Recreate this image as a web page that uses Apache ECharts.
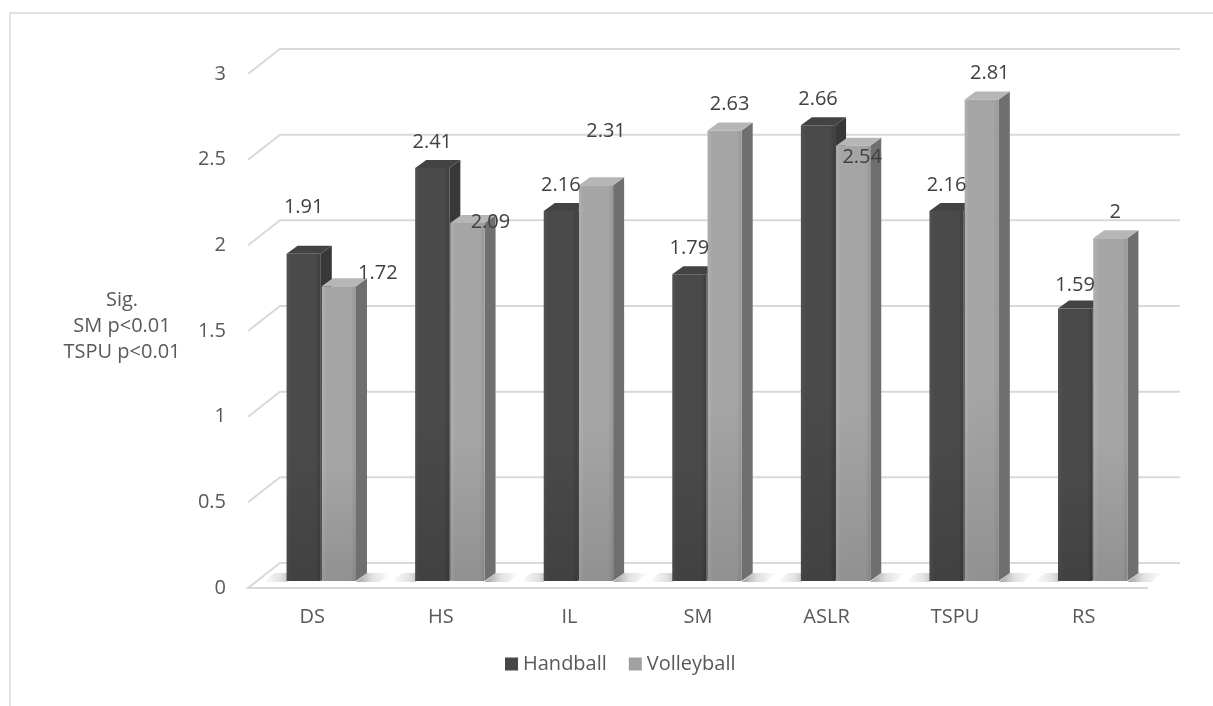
<!DOCTYPE html>
<html>
<head>
<meta charset="utf-8">
<script src="https://cdn.jsdelivr.net/npm/echarts@6/dist/echarts.min.js"></script>
<style>html,body{margin:0;padding:0;background:#fff;}#c{width:1213px;height:706px;}</style>
</head>
<body>
<div id="c"></div>
<script>
// ---- data ----
const categories = ['DS', 'HS', 'IL', 'SM', 'ASLR', 'TSPU', 'RS'];
const handball = [1.91, 2.41, 2.16, 1.79, 2.66, 2.16, 1.59];
const volleyball = [1.72, 2.09, 2.31, 2.63, 2.54, 2.81, 2];
const yTicks = [0, 0.5, 1, 1.5, 2, 2.5, 3];
const seriesNames = ['Handball', 'Volleyball'];
const sideNote = 'Sig.\nSM p<0.01\nTSPU p<0.01';

// ---- layout / style (not data) ----
const FONT = '"Open Sans", "DejaVu Sans", sans-serif';
const TXT = '#595959';
const GRID_C = '#d9d9d9';
const WALL = [32, -25];      // depth of the 3D box
const BAR_SHIFT = [9, -7];   // bar position inside the depth
const BAR_DEPTH = [11, -8];  // depth of a single bar
const SHADOW_LEN = 24;
const labelNudgeH = [[0, -20], [0, 0], [0, 0], [0, 0], [0, 0], [0, 0], [0, 3]];
const labelNudgeV = [[34, 13], [18, 25], [5, -28], [0, 0], [4, 37], [3, 0], [0, 0]];

const styles = [
  { front: ['#515151', '#4a4a4a', '#3d3d3d'], side: '#383838', top: '#434343' },
  { front: ['#b0b0b0', '#a5a5a5', '#979797'], side: '#6f6f6f', top: '#b6b6b6' }
];

function barGeom(api, idx) {
  const cat = api.value(0), val = api.value(1);
  const top = api.coord([cat, val]);
  const base = api.coord([cat, 0]);
  const band = api.size([1, 0])[0];
  const w = band * 0.266;
  const cx = base[0] + BAR_SHIFT[0];
  const x0 = idx === 0 ? cx - w - 0.5 : cx + 0.5;
  const yb = base[1] + BAR_SHIFT[1];
  const yt = top[1] + BAR_SHIFT[1];
  return { x0, w, yb, yt, cx, cat };
}

function shadowPiece(xa, xb, yb, darkLeft) {
  const dx = BAR_DEPTH[0], dy = BAR_DEPTH[1];
  return {
    type: 'polygon',
    shape: { points: [[xa, yb + 1], [xb, yb + 1], [xb + dx, yb + dy], [xa + dx, yb + dy]] },
    style: {
      fill: new echarts.graphic.LinearGradient(0, 0, 1, 0, darkLeft ? [
        { offset: 0, color: 'rgba(0,0,0,0.38)' },
        { offset: 0.45, color: 'rgba(0,0,0,0.12)' },
        { offset: 1, color: 'rgba(0,0,0,0)' }
      ] : [
        { offset: 0, color: 'rgba(0,0,0,0)' },
        { offset: 0.55, color: 'rgba(0,0,0,0.12)' },
        { offset: 1, color: 'rgba(0,0,0,0.38)' }
      ])
    },
    silent: true
  };
}

function barRender(idx) {
  return function (params, api) {
    const g = barGeom(api, idx);
    const s = styles[idx];
    const dx = BAR_DEPTH[0], dy = BAR_DEPTH[1];
    const children = [];
    // soft floor shadows beside the bar pair
    if (idx === 0) {
      children.push(shadowPiece(g.x0 - SHADOW_LEN, g.x0, g.yb, false));
    } else {
      children.push(shadowPiece(g.x0 + g.w, g.x0 + g.w + SHADOW_LEN, g.yb, true));
    }
    children.push({
      type: 'polygon',
      shape: { points: [[g.x0 + g.w, g.yt], [g.x0 + g.w + dx, g.yt + dy], [g.x0 + g.w + dx, g.yb + dy], [g.x0 + g.w, g.yb]] },
      style: { fill: s.side }
    });
    children.push({
      type: 'polygon',
      shape: { points: [[g.x0, g.yt], [g.x0 + dx, g.yt + dy], [g.x0 + g.w + dx, g.yt + dy], [g.x0 + g.w, g.yt]] },
      style: { fill: s.top }
    });
    children.push({
      type: 'rect',
      shape: { x: g.x0, y: g.yt, width: g.w, height: g.yb - g.yt },
      style: {
        fill: new echarts.graphic.LinearGradient(0, 0, 1, 0, [
          { offset: 0, color: s.front[0] },
          { offset: 0.15, color: s.front[1] },
          { offset: 0.85, color: s.front[1] },
          { offset: 1, color: s.front[2] }
        ])
      }
    });
    children.push({
      type: 'rect',
      shape: { x: g.x0, y: g.yt, width: g.w, height: g.yb - g.yt },
      style: {
        fill: new echarts.graphic.LinearGradient(0, 0, 0, 1, [
          { offset: 0, color: 'rgba(0,0,0,0)' },
          { offset: 0.6, color: 'rgba(0,0,0,0)' },
          { offset: 1, color: 'rgba(0,0,0,0.12)' }
        ])
      },
      silent: true
    });
    return { type: 'group', children };
  };
}

function labelRender(idx) {
  return function (params, api) {
    const g = barGeom(api, idx);
    const nudge = (idx === 0 ? labelNudgeH : labelNudgeV)[g.cat];
    const x = g.x0 + g.w / 2 + (idx === 0 ? 0 : 5) + nudge[0];
    const y = g.yt - 26 + nudge[1];
    return {
      type: 'text',
      x: x, y: y,
      style: {
        text: String(api.value(1)),
        fill: '#404040',
        fontSize: 20,
        fontFamily: FONT,
        align: 'center',
        verticalAlign: 'middle'
      },
      silent: true
    };
  };
}

function gridRender(params, api) {
  const cs = params.coordSys;
  const v = api.value(1);
  const y = api.coord([0, v])[1];
  const xl = cs.x, xr = cs.x + cs.width;
  const pts = v === 0
    ? [[xr, y], [xl, y], [xl + WALL[0], y + WALL[1]], [xr + WALL[0], y + WALL[1]]]
    : [[xl, y], [xl + WALL[0], y + WALL[1]], [xr + WALL[0], y + WALL[1]]];
  return {
    type: 'polyline',
    shape: { points: pts },
    style: { stroke: GRID_C, lineWidth: 2, fill: null },
    silent: true
  };
}

const chart = echarts.init(document.getElementById('c'), null, { renderer: 'canvas' });
chart.setOption({
  animation: false,
  backgroundColor: '#ffffff',
  textStyle: { fontFamily: FONT },
  grid: { left: 248, right: 65, top: 74, bottom: 118 },
  xAxis: {
    type: 'category',
    data: categories,
    axisLine: { show: false },
    axisTick: { show: false },
    axisLabel: { color: TXT, fontSize: 20, fontFamily: FONT, margin: 19 }
  },
  yAxis: {
    type: 'value',
    min: 0, max: 3, interval: 0.5,
    axisLine: { show: false },
    axisTick: { show: false },
    splitLine: { show: false },
    axisLabel: { color: TXT, fontSize: 20, fontFamily: FONT, margin: 22 }
  },
  legend: {
    data: seriesNames,
    left: 500, top: 649,
    itemWidth: 13, itemHeight: 13, itemGap: 22,
    icon: 'rect',
    textStyle: { color: TXT, fontSize: 20, fontFamily: FONT }
  },
  graphic: [
    {
      type: 'rect',
      shape: { x: 10, y: 13, width: 1240, height: 760 },
      style: { fill: null, stroke: GRID_C, lineWidth: 1.5 },
      silent: true, z: -10
    },
    {
      type: 'text',
      x: 122, y: 326,
      style: {
        text: sideNote, fill: TXT, fontSize: 20, fontFamily: FONT,
        align: 'center', verticalAlign: 'middle', lineHeight: 26
      },
      silent: true
    }
  ],
  series: [
    {
      name: 'grid', type: 'custom', renderItem: gridRender,
      data: yTicks.map(v => [0, v]), encode: { x: 0, y: 1 }, z: 1, silent: true
    },
    {
      name: seriesNames[0], type: 'custom', renderItem: barRender(0),
      itemStyle: { color: '#474747' },
      data: handball.map((v, i) => [i, v]), encode: { x: 0, y: 1 }, z: 2
    },
    {
      name: seriesNames[1], type: 'custom', renderItem: barRender(1),
      itemStyle: { color: '#a0a0a0' },
      data: volleyball.map((v, i) => [i, v]), encode: { x: 0, y: 1 }, z: 3
    },
    {
      name: 'lblH', type: 'custom', renderItem: labelRender(0),
      data: handball.map((v, i) => [i, v]), encode: { x: 0, y: 1 }, z: 5, silent: true
    },
    {
      name: 'lblV', type: 'custom', renderItem: labelRender(1),
      data: volleyball.map((v, i) => [i, v]), encode: { x: 0, y: 1 }, z: 5, silent: true
    }
  ]
});
</script>
</body>
</html>
